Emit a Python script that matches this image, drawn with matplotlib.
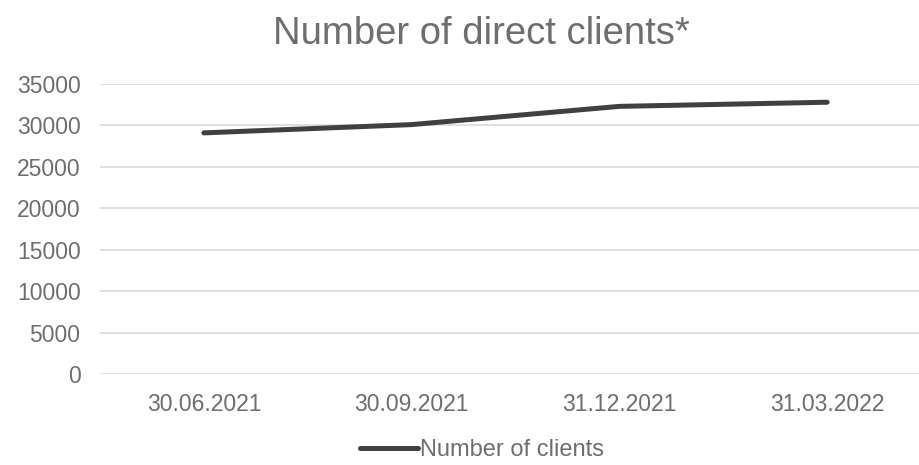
import matplotlib
matplotlib.use('Agg')
import matplotlib.pyplot as plt

plt.rcParams['font.family'] = ['Liberation Sans', 'DejaVu Sans']

dates = ["30.06.2021", "30.09.2021", "31.12.2021", "31.03.2022"]
clients = [29100, 30100, 32300, 32800]
y_ticks = [0, 5000, 10000, 15000, 20000, 25000, 30000, 35000]

text_color = "#6e6e6e"
line_color = "#404040"
grid_color = "#d9d9d9"

fig = plt.figure(figsize=(9.2, 4.65), dpi=100)
ax = fig.add_axes([100 / 920, 91 / 465, 831 / 920, 290 / 465])

x = list(range(len(dates)))
ax.plot(x, clients, color=line_color, lw=3.6, solid_capstyle='round',
        solid_joinstyle='round', label="Number of clients", zorder=3)

ax.set_xlim(-0.5, len(dates) - 0.5)
ax.set_ylim(0, 35000)
ax.set_yticks(y_ticks)
ax.set_yticklabels([str(v) for v in y_ticks])
ax.set_xticks(x)
ax.set_xticklabels(dates)
ax.grid(axis='y', color=grid_color, lw=1.2)
ax.set_axisbelow(True)
for s in ax.spines.values():
    s.set_visible(False)
ax.tick_params(axis='both', length=0, labelsize=16.5, colors=text_color)
ax.tick_params(axis='y', pad=14)
ax.tick_params(axis='x', pad=14)

fig.text(481 / 920, 1 - 44 / 465, "Number of direct clients*", ha='center',
         va='baseline', fontsize=27.5, color=text_color)

leg = fig.legend(loc='center', bbox_to_anchor=(482 / 920, 15 / 465),
                 frameon=False, fontsize=17, handlelength=2.46,
                 handletextpad=0.05, borderaxespad=0)
for t in leg.get_texts():
    t.set_color(text_color)

plt.savefig("out.png", dpi=100)
